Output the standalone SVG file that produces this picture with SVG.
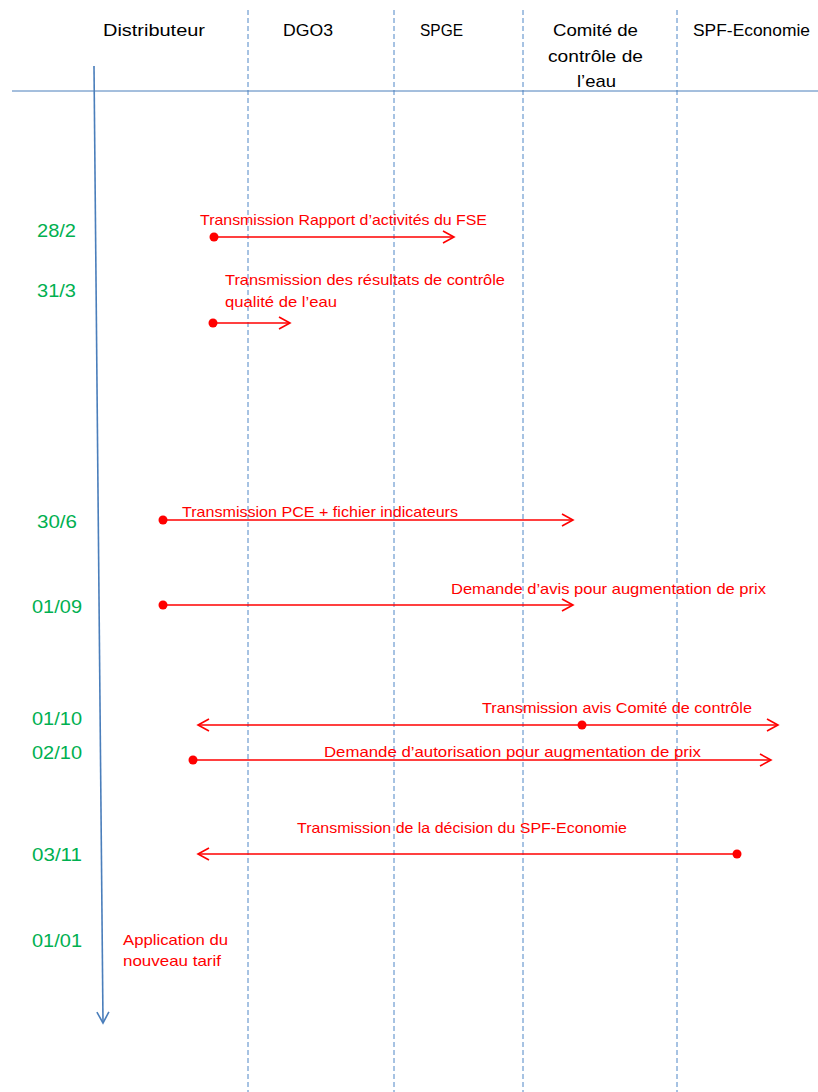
<svg xmlns="http://www.w3.org/2000/svg" width="818" height="1092" viewBox="0 0 818 1092">
<style>
.hdr{font-family:"Liberation Sans",Arial,sans-serif;font-size:17px;fill:#000}
.date{font-family:"Liberation Sans",Arial,sans-serif;font-size:18.5px;fill:#00b050}
.lbl{font-family:"Liberation Sans",Arial,sans-serif;font-size:15px;fill:#ff0000}
.lane{stroke:#4f86c6;stroke-width:1;stroke-dasharray:5,3;fill:none}
.msg{stroke:#ff0000;stroke-width:1.6;fill:none}
.dot{fill:#ff0000}
</style>
<defs>
<marker id="openRed" markerUnits="userSpaceOnUse" markerWidth="14" markerHeight="16" refX="12" refY="7" orient="auto-start-reverse">
<path d="M1,1 L12,7 L1,13" fill="none" stroke="#ff0000" stroke-width="1.6"/>
</marker>
<marker id="openBlue" markerUnits="userSpaceOnUse" markerWidth="14" markerHeight="16" refX="12" refY="7" orient="auto">
<path d="M1,1 L12,7 L1,13" fill="none" stroke="#4a7ebb" stroke-width="1.6"/>
</marker>
</defs>
<rect width="818" height="1092" fill="#fff"/>
<g id="lanes">
<line class="lane" x1="248" y1="10" x2="248" y2="1092"/>
<line class="lane" x1="394" y1="10" x2="394" y2="1092"/>
<line class="lane" x1="523" y1="10" x2="523" y2="1092"/>
<line class="lane" x1="677" y1="10" x2="677" y2="1092"/>
<line x1="12" y1="91" x2="818" y2="91" stroke="#4a7ebb" stroke-width="1"/>
</g>
<g id="header-distributeur"><text class="hdr" x="103" y="36" textLength="102" lengthAdjust="spacingAndGlyphs">Distributeur</text></g>
<g id="header-dgo3"><text class="hdr" x="283" y="36" textLength="50" lengthAdjust="spacingAndGlyphs">DGO3</text></g>
<g id="header-spge"><text class="hdr" x="420" y="36" textLength="43" lengthAdjust="spacingAndGlyphs">SPGE</text></g>
<g id="header-comite">
<text class="hdr" x="553" y="36" textLength="85" lengthAdjust="spacingAndGlyphs">Comité de</text>
<text class="hdr" x="548" y="62" textLength="95" lengthAdjust="spacingAndGlyphs">contrôle de</text>
<text class="hdr" x="577" y="87" textLength="39" lengthAdjust="spacingAndGlyphs">l’eau</text>
</g>
<g id="header-spf"><text class="hdr" x="693" y="36" textLength="117" lengthAdjust="spacingAndGlyphs">SPF-Economie</text></g>
<g id="timeline">
<line x1="94" y1="66" x2="103" y2="1023" stroke="#4a7ebb" stroke-width="1.6" marker-end="url(#openBlue)"/>
</g>
<g id="dates">
<text class="date" x="37" y="237" textLength="39" lengthAdjust="spacingAndGlyphs">28/2</text>
<text class="date" x="37" y="297" textLength="39" lengthAdjust="spacingAndGlyphs">31/3</text>
<text class="date" x="37" y="528" textLength="40" lengthAdjust="spacingAndGlyphs">30/6</text>
<text class="date" x="32" y="613" textLength="50" lengthAdjust="spacingAndGlyphs">01/09</text>
<text class="date" x="32" y="725" textLength="50" lengthAdjust="spacingAndGlyphs">01/10</text>
<text class="date" x="32" y="759" textLength="50" lengthAdjust="spacingAndGlyphs">02/10</text>
<text class="date" x="32" y="861" textLength="50" lengthAdjust="spacingAndGlyphs">03/11</text>
<text class="date" x="32" y="947" textLength="50" lengthAdjust="spacingAndGlyphs">01/01</text>
</g>
<g id="connectors">
<g id="msg-28-2">
<line class="msg" x1="214" y1="237" x2="454" y2="237" marker-end="url(#openRed)"/>
<circle class="dot" cx="214" cy="237" r="4.5"/>
<text class="lbl" x="200" y="225" textLength="287" lengthAdjust="spacingAndGlyphs">Transmission Rapport d’activités du FSE</text>
</g>
<g id="msg-31-3">
<line class="msg" x1="213" y1="323" x2="290" y2="323" marker-end="url(#openRed)"/>
<circle class="dot" cx="213" cy="323" r="4.5"/>
<text class="lbl" x="225" y="285" textLength="280" lengthAdjust="spacingAndGlyphs">Transmission des résultats de contrôle</text>
<text class="lbl" x="225" y="307" textLength="112" lengthAdjust="spacingAndGlyphs">qualité de l’eau</text>
</g>
<g id="msg-30-6">
<line class="msg" x1="163" y1="520" x2="573" y2="520" marker-end="url(#openRed)"/>
<circle class="dot" cx="163" cy="520" r="4.5"/>
<text class="lbl" x="182" y="517" textLength="276" lengthAdjust="spacingAndGlyphs">Transmission PCE + fichier indicateurs</text>
</g>
<g id="msg-01-09">
<line class="msg" x1="163" y1="605" x2="573" y2="605" marker-end="url(#openRed)"/>
<circle class="dot" cx="163" cy="605" r="4.5"/>
<text class="lbl" x="451" y="594" textLength="315" lengthAdjust="spacingAndGlyphs">Demande d’avis pour augmentation de prix</text>
</g>
<g id="msg-01-10">
<line class="msg" x1="198" y1="725" x2="778" y2="725" marker-start="url(#openRed)" marker-end="url(#openRed)"/>
<circle class="dot" cx="582" cy="725" r="4.5"/>
<text class="lbl" x="482" y="713" textLength="270" lengthAdjust="spacingAndGlyphs">Transmission avis Comité de contrôle</text>
</g>
<g id="msg-02-10">
<line class="msg" x1="193" y1="760" x2="771" y2="760" marker-end="url(#openRed)"/>
<circle class="dot" cx="193" cy="760" r="4.5"/>
<text class="lbl" x="324" y="757" textLength="377" lengthAdjust="spacingAndGlyphs">Demande d’autorisation pour augmentation de prix</text>
</g>
<g id="msg-03-11">
<line class="msg" x1="737" y1="854" x2="198" y2="854" marker-end="url(#openRed)"/>
<circle class="dot" cx="737" cy="854" r="4.5"/>
<text class="lbl" x="297" y="833" textLength="330" lengthAdjust="spacingAndGlyphs">Transmission de la décision du SPF-Economie</text>
</g>
</g>
<g id="note-01-01">
<text class="lbl" x="123" y="945" textLength="105" lengthAdjust="spacingAndGlyphs">Application du</text>
<text class="lbl" x="123" y="966" textLength="98" lengthAdjust="spacingAndGlyphs">nouveau tarif</text>
</g>
</svg>
